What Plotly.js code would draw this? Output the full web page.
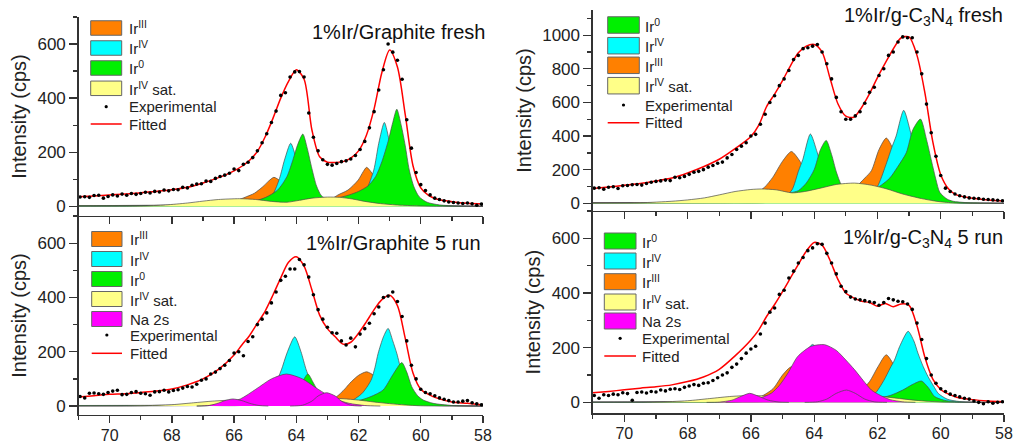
<!DOCTYPE html>
<html><head><meta charset="utf-8">
<script src="https://cdn.plot.ly/plotly-3.0.1.min.js"></script>
<style>html,body{margin:0;padding:0;background:#fff}#chart{width:1015px;height:443px}</style>
</head><body><div id="chart"></div>
<script>
// ---------- shared grids ----------
const fitX = [71,70.5,70,69.5,69,68.5,68,67.5,67,66.5,66,65.75,65.5,65.25,65,64.75,64.5,64.25,64,63.75,63.5,63.25,63,62.75,62.5,62.25,62,61.75,61.5,61.25,61,60.75,60.5,60.25,60,59.75,59.5,59,58.5,58];
const expX = [70.95,70.8,70.65,70.5,70.35,70.2,70.05,69.9,69.75,69.6,69.45,69.3,69.15,69.0,68.85,68.7,68.55,68.4,68.25,68.1,67.95,67.8,67.65,67.5,67.35,67.2,67.05,66.9,66.75,66.6,66.45,66.3,66.15,66.0,65.85,65.7,65.55,65.4,65.25,65.1,64.95,64.8,64.65,64.5,64.35,64.2,64.05,63.9,63.75,63.6,63.45,63.3,63.15,63.0,62.85,62.7,62.55,62.4,62.25,62.1,61.95,61.8,61.65,61.5,61.35,61.2,61.05,60.9,60.75,60.6,60.45,60.3,60.15,60.0,59.85,59.7,59.55,59.4,59.25,59.1,58.95,58.8,58.65,58.5,58.35,58.2,58.05];
const xTickVals = [70,68,66,64,62,60,58];

// ---------- 1%Ir/Graphite fresh (top left) ----------
const tlExp = [34,35,33,40,41,30,36,42,38,45,41,47,44,47,52,49,55,53,60,57,62,61,70,68,78,82,83,93,92,103,110,115,122,138,132,155,163,180,205,235,268,310,352,410,420,478,497,498,478,345,255,205,172,155,152,158,165,168,175,188,210,240,290,350,430,505,600,570,540,470,320,215,125,80,58,42,30,25,20,16,14,12,10,12,9,4,8];
const tlFit = [35,38,42,45,50,55,61,70,86,106,131,148,170,203,257,325,400,462,505,470,283,183,163,162,165,178,205,262,360,495,578,515,340,150,68,40,27,17,11,8];
const tlIr3X = [71,68.5,67.2,66.5,66.0,65.61,65.35,65.08,64.9,64.72,64.5,64.3,64.0,63.6,63.2,62.9,62.66,62.34,62.01,61.85,61.74,61.55,61.3,61.0,60.6,60.0,59.3,58];
const tlIr3Y = [2,4,6,9,18,35,48,72,92,107,92,65,35,18,15,25,42,60,97,128,144,120,80,45,20,7,2,0];
const tlIr4X = [71,68,66.5,65.5,65.0,64.75,64.54,64.38,64.18,64.0,63.85,63.6,63.3,62.8,62.3,62.0,61.75,61.51,61.35,61.17,61.0,60.85,60.6,60.3,59.8,59.2,58];
const tlIr4Y = [1,2,3,6,20,45,103,171,233,175,110,50,20,8,10,25,60,134,233,310,235,150,60,22,7,2,0];
const tlIr0X = [71,68,66.5,65.5,65.0,64.6,64.3,64.1,63.95,63.79,63.65,63.5,63.35,63.2,63.0,62.7,62.3,62.0,61.7,61.45,61.25,61.05,60.9,60.77,60.63,60.5,60.37,60.22,60.05,59.8,59.4,58.8,58];
const tlIr0Y = [2,3,5,15,32,60,110,175,230,267,215,140,75,40,25,30,42,55,75,110,165,240,310,359,300,225,134,72,35,15,5,1,0];
const tlSatX = [71,69.0,68.2,67.5,67.0,66.5,65.83,65.3,64.8,64.3,63.9,63.5,63.0,62.6,62.2,61.8,61.3,60.8,60.2,59.5,58];
const tlSatY = [0,1,5,12,19,25,28,25,18,15,22,30,34,33,27,18,10,5,2,0,0];

// ---------- 1%Ir/Graphite 5 run (bottom left) ----------
const blExp = [35,30,47,48,45,43,50,55,58,42,43,50,53,47,45,40,52,53,58,52,57,60,66,72,70,80,95,100,118,125,138,150,168,195,200,185,238,255,300,320,343,380,420,463,478,505,505,540,520,475,410,355,320,290,270,268,240,225,250,218,265,285,305,340,365,400,405,420,385,330,240,150,100,62,50,45,38,30,25,20,15,15,18,20,12,8,5];
const blFit = [33,38,43,45,50,55,63,78,100,135,188,225,260,305,350,409,472,530,550,515,428,335,285,255,228,235,268,310,355,392,408,370,250,122,62,43,30,15,10,4];
const blIr3X = [71,68,66.5,65.8,65.4,65.1,64.72,64.4,64.0,63.6,63.2,62.9,62.71,62.44,62.28,62.0,61.74,61.5,61.2,60.9,60.5,60.0,59.3,58];
const blIr3Y = [2,3,5,20,45,75,94,75,40,20,15,25,34,63,84,113,126,112,75,38,15,5,1,0];
const blIr4X = [71,67,65.5,65.0,64.7,64.48,64.3,64.05,63.85,63.68,63.45,63.1,62.7,62.3,61.9,61.7,61.58,61.47,61.37,61.2,61.05,60.9,60.77,60.6,60.35,60.0,59.5,58];
const blIr4Y = [1,2,5,30,75,133,195,255,200,133,70,25,12,15,45,75,100,143,194,255,286,240,194,120,55,18,5,0];
const blIr0X = [71,67,65.0,64.5,64.1,63.85,63.63,63.45,63.25,62.95,62.5,62.0,61.6,61.21,60.9,60.61,60.45,60.29,60.1,59.92,59.6,59.0,58];
const blIr0Y = [1,2,5,15,40,80,118,85,45,20,15,20,35,59,115,160,125,71,38,22,10,2,0];
const blSatX = [71,69.0,68.0,67.3,66.7,66.0,65.3,64.6,64.0,63.5,63.0,62.5,62.0,61.5,61.0,60.5,60.0,58];
const blSatY = [0,1,5,12,18,22,18,14,18,24,28,27,22,15,9,4,1,0];
const blNaX = [67.2,66.8,66.3,65.8,65.3,64.8,64.32,63.8,63.3,62.8,62.3,61.8,61.3];
const blNaY = [0,2,10,26,62,100,118,100,62,28,10,2,0];
const blNa2X = [64.2,63.8,63.5,63.3,63.03,62.75,62.55,62.25,61.9];
const blNa2Y = [0,3,18,37,49,37,18,3,0];
const blNa3X = [67.2,66.8,66.5,66.3,66.04,65.75,65.5,65.2,64.9];
const blNa3Y = [0,2,11,20,26,20,10,2,0];

// ---------- 1%Ir/g-C3N4 fresh (top right) ----------
const trExp = [90,92,84,95,98,88,104,106,110,112,108,118,125,130,133,138,135,155,152,160,172,185,190,200,215,225,238,245,270,290,320,340,360,400,410,470,530,600,640,700,740,790,855,880,920,925,935,945,900,830,740,630,545,500,500,520,545,595,660,690,760,800,880,900,960,990,985,985,900,770,590,420,280,165,90,70,55,45,38,32,30,28,24,22,20,18,15];
const trFit = [88,97,107,117,132,150,180,217,262,325,397,465,577,650,730,818,895,935,945,900,745,592,518,512,570,652,748,835,918,985,990,880,657,365,170,85,50,30,20,14];
const trIr3X = [71,68.5,67.5,66.7,66.2,65.8,65.57,65.31,65.0,64.72,64.45,64.2,63.9,63.5,63.2,62.9,62.56,62.4,62.19,61.95,61.72,61.5,61.25,60.95,60.6,60.2,59.6,58];
const trIr3Y = [3,5,8,15,35,65,95,154,250,308,250,150,75,35,35,70,119,150,194,320,388,320,190,90,35,12,3,0];
const trIr4X = [71,67,65.5,65.0,64.7,64.5,64.36,64.12,63.9,63.7,63.45,63.1,62.7,62.3,62.0,61.75,61.55,61.41,61.17,60.95,60.75,60.5,60.2,59.8,59.3,58];
const trIr4Y = [2,3,5,25,80,190,260,412,300,170,70,25,15,40,100,220,330,400,553,420,260,100,30,8,2,0];
const trIr0X = [71,67.5,66.5,65.8,65.2,64.8,64.5,64.25,64.0,63.8,63.62,63.45,63.3,63.14,62.9,62.6,62.2,61.9,61.61,61.35,61.09,60.88,60.64,60.45,60.29,60.15,60.03,59.8,59.61,59.2,58.5,58];
const trIr0Y = [2,3,5,20,40,60,75,120,200,320,374,290,187,109,60,55,75,105,150,220,300,438,501,380,250,140,65,25,12,4,1,0];
const trSatX = [71,69.5,68.5,68.0,67.47,67.0,66.5,66.0,65.67,65.2,64.7,64.3,63.8,63.3,62.72,62.2,61.7,61.2,60.61,60.2,59.97,59.5,58];
const trSatY = [1,3,12,20,32,50,70,82,85,80,62,70,90,112,120,108,85,55,28,14,8,2,0];

// ---------- 1%Ir/g-C3N4 5 run (bottom right) ----------
const brExp = [25,15,28,25,30,28,35,32,8,36,38,34,40,38,45,42,48,50,47,55,60,65,62,70,72,80,90,100,108,128,140,160,180,195,205,250,290,330,345,395,410,455,480,510,530,555,565,580,578,545,510,470,425,405,385,378,375,372,368,365,355,365,380,375,370,368,360,340,290,230,160,100,70,50,40,30,25,20,15,12,5,0,-5,2,-3,0,2];
const brFit = [35,40,46,52,57,64,76,93,121,170,228,265,315,358,405,455,505,553,585,575,520,450,400,382,370,365,352,362,350,360,355,280,165,85,47,30,19,10,5,2];
const brIr3X = [71,68,66.5,65.8,65.3,65.0,64.72,64.45,64.1,63.7,63.2,62.8,62.5,62.25,61.98,61.72,61.45,61.2,60.9,60.5,60.0,58];
const brIr3Y = [1,2,3,15,50,100,130,100,45,20,15,25,45,76,131,174,130,70,30,10,2,0];
const brIr4X = [71,67,65.5,65.0,64.7,64.45,64.25,64.05,63.85,63.6,63.3,62.9,62.5,62.1,61.8,61.6,61.46,61.3,61.03,60.85,60.72,60.55,60.4,60.2,60.08,59.8,59.4,58];
const brIr4Y = [1,2,5,30,70,140,185,212,185,130,60,20,15,30,80,125,155,204,260,225,180,130,94,55,33,12,3,0];
const brIr0X = [71,66,65.0,64.3,63.9,63.6,63.3,63.0,62.5,62.0,61.6,61.2,60.9,60.61,60.4,60.19,59.9,59.5,58];
const brIr0Y = [1,2,3,15,40,58,40,20,12,15,25,45,65,78,55,21,8,2,0];
const brSatX = [71,69.0,68.0,67.3,66.6,66.0,65.3,64.6,64.0,63.4,62.8,62.2,61.6,61.0,60.4,59.8,58];
const brSatY = [0,1,6,14,22,25,22,18,22,26,28,25,18,10,4,1,0];
const brNaX = [66.8,66.3,65.8,65.36,65.1,64.83,64.52,64.1,63.67,63.3,63.0,62.72,62.45,62.19,61.9,61.6,61.2,60.8];
const brNaY = [0,3,12,33,62,107,168,205,211,190,155,119,80,45,25,10,2,0];
const brNa2X = [67.4,67.0,66.6,66.35,66.04,65.75,65.45,65.1,64.8];
const brNa2Y = [0,1,8,20,33,22,8,1,0];
const brNa3X = [64.3,63.9,63.6,63.3,62.98,62.7,62.4,62.1,61.7];
const brNa3Y = [0,2,12,33,45,33,12,2,0];

// ---------- text ----------
const panelTitles = ['1%Ir/Graphite fresh','1%Ir/Graphite 5 run','1%Ir/g-C<sub>3</sub>N<sub>4</sub> fresh','1%Ir/g-C<sub>3</sub>N<sub>4</sub> 5 run'];
const yTitle = 'Intensity (cps)';
const legTL = ['Ir<sup>III</sup>','Ir<sup>IV</sup>','Ir<sup>0</sup>','Ir<sup>IV</sup> sat.'];
const legBL = ['Ir<sup>III</sup>','Ir<sup>IV</sup>','Ir<sup>0</sup>','Ir<sup>IV</sup> sat.','Na 2s'];
const legTR = ['Ir<sup>0</sup>','Ir<sup>IV</sup>','Ir<sup>III</sup>','Ir<sup>IV</sup> sat.'];
const legBR = ['Ir<sup>0</sup>','Ir<sup>IV</sup>','Ir<sup>III</sup>','Ir<sup>IV</sup> sat.','Na 2s'];
const legExp = 'Experimental', legFit = 'Fitted';

// ---------- styling ----------
const C = {ir3:'#FF8000', ir4:'#00FFFF', ir0:'#00F000', sat:'#FFFF88', na:'#FF00FF'};
const FONT = '"Liberation Sans", Arial, sans-serif';
const W = 1015, H = 443;
const PX = p => p / W, PY = p => 1 - p / H;

const traces = [];
function comp(x, y, color, ax) {
  traces.push({type:'scatter', mode:'lines', x:x, y:y, xaxis:'x'+ax, yaxis:'y'+ax,
    fill:'tozeroy', fillcolor:color, line:{color:'#4a4a4a', width:0.7, shape:'spline', smoothing:0.7},
    showlegend:false, hoverinfo:'skip'});
}
function expfit(fy, ey, ax) {
  traces.push({type:'scatter', mode:'lines', x:fitX, y:fy, xaxis:'x'+ax, yaxis:'y'+ax,
    line:{color:'#FF0000', width:1.5, shape:'spline', smoothing:0.8}, showlegend:false, hoverinfo:'skip'});
  traces.push({type:'scatter', mode:'markers', x:expX, y:ey, xaxis:'x'+ax, yaxis:'y'+ax,
    marker:{color:'#000', size:3.6}, showlegend:false, hoverinfo:'skip'});
}
// TL (axis 1)
comp(tlIr3X, tlIr3Y, C.ir3, ''); comp(tlIr4X, tlIr4Y, C.ir4, ''); comp(tlIr0X, tlIr0Y, C.ir0, ''); comp(tlSatX, tlSatY, C.sat, '');
expfit(tlFit, tlExp, '');
// BL (axis 2)
comp(blIr3X, blIr3Y, C.ir3, '2'); comp(blIr4X, blIr4Y, C.ir4, '2'); comp(blIr0X, blIr0Y, C.ir0, '2'); comp(blSatX, blSatY, C.sat, '2');
comp(blNaX, blNaY, C.na, '2'); comp(blNa2X, blNa2Y, C.na, '2'); comp(blNa3X, blNa3Y, C.na, '2');
expfit(blFit, blExp, '2');
// TR (axis 3)
comp(trIr3X, trIr3Y, C.ir3, '3'); comp(trIr4X, trIr4Y, C.ir4, '3'); comp(trIr0X, trIr0Y, C.ir0, '3'); comp(trSatX, trSatY, C.sat, '3');
expfit(trFit, trExp, '3');
// BR (axis 4)
comp(brIr3X, brIr3Y, C.ir3, '4'); comp(brIr4X, brIr4Y, C.ir4, '4'); comp(brIr0X, brIr0Y, C.ir0, '4'); comp(brSatX, brSatY, C.sat, '4');
comp(brNaX, brNaY, C.na, '4'); comp(brNa2X, brNa2Y, C.na, '4'); comp(brNa3X, brNa3Y, C.na, '4');
expfit(brFit, brExp, '4');

const axisCol = '#333';
function xa(domain, anchor, labels) {
  return {domain:domain, anchor:anchor, range:[71,58], showline:true, linecolor:axisCol, linewidth:1.3,
    ticks:'outside', ticklen:7, tickwidth:1.3, tickcolor:axisCol, tickvals:xTickVals, showticklabels:labels,
    minor:{dtick:1, tick0:0, ticks:'outside', ticklen:4, tickwidth:1.3, tickcolor:axisCol, showgrid:false},
    showgrid:false, zeroline:false, tickfont:{family:FONT, size:16, color:'#222'}, ticklabelstandoff:-2};
}
function ya(domain, anchor, range) {
  return {domain:domain, anchor:anchor, range:range, showline:true, linecolor:axisCol, linewidth:1.3,
    ticks:'outside', ticklen:8, tickwidth:1.3, tickcolor:axisCol, dtick:200, tick0:0,
    minor:{dtick:100, tick0:0, ticks:'outside', ticklen:4, tickwidth:1.3, tickcolor:axisCol, showgrid:false},
    showgrid:false, zeroline:false, tickfont:{family:FONT, size:17, color:'#222'},
    title:{text:yTitle, font:{family:FONT, size:20, color:'#222'}, standoff:5}};
}
const LX = [78.5/W, 483/W], RX = [592.7/W, 1004/W];
const layout = {
  width:W, height:H, margin:{l:0, r:0, t:0, b:0}, paper_bgcolor:'#fff', plot_bgcolor:'rgba(0,0,0,0)',
  showlegend:false, font:{family:FONT, color:'#222'},
  xaxis: xa(LX, 'y', false),   yaxis: ya([PY(216), PY(17)], 'x', [-36,700]),
  xaxis2: xa(LX, 'y2', true),  yaxis2: ya([PY(415), PY(216)], 'x2', [-33,700]),
  xaxis3: xa(RX, 'y3', false), yaxis3: ya([PY(211), PY(10)], 'x3', [-46,1150]),
  xaxis4: xa(RX, 'y4', true),  yaxis4: ya([PY(413.3), PY(211)], 'x4', [-40,700]),
  shapes: [], annotations: []
};
// panel titles
const titlePos = [[487,32],[483,243],[1005,17],[1005,239]];
panelTitles.forEach((t,i) => layout.annotations.push({xref:'paper', yref:'paper', x:PX(titlePos[i][0]), y:PY(titlePos[i][1]),
  xanchor:'right', yanchor:'middle', text:t, showarrow:false, font:{family:FONT, size:20, color:'#111'}}));
// legends
function legend(labels, colors, bx0, bx1, rows, bh, dotY, lineY, tx) {
  rows.forEach((cy, i) => {
    layout.shapes.push({type:'rect', xref:'paper', yref:'paper', x0:PX(bx0), x1:PX(bx1), y0:PY(cy+bh/2), y1:PY(cy-bh/2),
      fillcolor:colors[i], line:{color:'#666', width:1}});
    layout.annotations.push({xref:'paper', yref:'paper', x:PX(tx), y:PY(cy), xanchor:'left', yanchor:'middle',
      text:labels[i], showarrow:false, font:{family:FONT, size:15, color:'#222'}});
  });
  const cx = (bx0+bx1)/2;
  layout.shapes.push({type:'circle', xref:'paper', yref:'paper', x0:PX(cx-1.6), x1:PX(cx+1.6), y0:PY(dotY+1.6), y1:PY(dotY-1.6),
    fillcolor:'#000', line:{width:0}});
  layout.shapes.push({type:'line', xref:'paper', yref:'paper', x0:PX(bx0), x1:PX(bx1), y0:PY(lineY), y1:PY(lineY),
    line:{color:'#FF0000', width:1.5}});
  [[legExp, dotY],[legFit, lineY]].forEach(([t, y]) => layout.annotations.push({xref:'paper', yref:'paper', x:PX(tx), y:PY(y),
    xanchor:'left', yanchor:'middle', text:t, showarrow:false, font:{family:FONT, size:15, color:'#222'}}));
}
legend(legTL, [C.ir3, C.ir4, C.ir0, C.sat], 90.7, 121.7, [28,48,68,88.3], 14.5, 106.7, 124, 126.7);
legend(legBL, [C.ir3, C.ir4, C.ir0, C.sat, C.na], 91.7, 122, [239,259,279,299,319], 15, 335, 353.3, 128);
legend(legTR, [C.ir0, C.ir4, C.ir3, C.sat], 607.7, 639.3, [25,45.7,65.3,85.7], 16.5, 105, 122.7, 643.3);
legend(legBR, [C.ir0, C.ir4, C.ir3, C.sat, C.na], 604.3, 636, [241,261,281.7,302,321], 16, 338.3, 356, 640);

Plotly.newPlot('chart', traces, layout, {displayModeBar:false, staticPlot:true});
</script></body></html>
